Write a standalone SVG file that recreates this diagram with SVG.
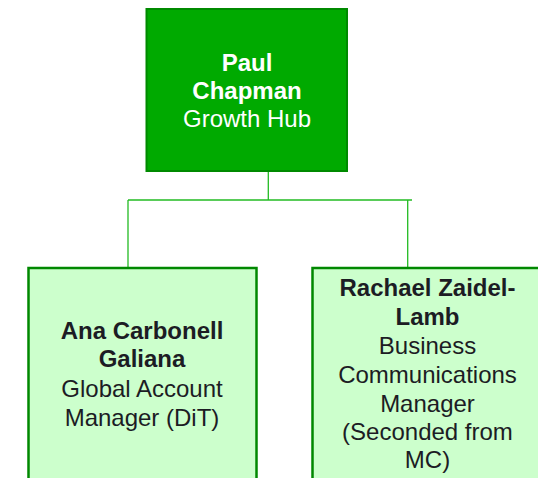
<svg xmlns="http://www.w3.org/2000/svg" width="538" height="478" viewBox="0 0 538 478">
<style>
text{font-family:"Liberation Sans",Arial,sans-serif;font-size:24px;text-anchor:middle}
.b{font-weight:bold}
.top rect{fill:#00aa00;stroke:#008a00;stroke-width:2}
.top text{fill:#ffffff}
.sub rect{fill:#ccffcc;stroke:#008800;stroke-width:2.5}
.sub text{fill:#1c1c24}
.conn{fill:none;stroke:#22bb22;stroke-width:1.3}
</style>
<rect width="538" height="478" fill="#ffffff"/>
<g id="connectors" class="conn">
<path d="M268.3 171V200"/>
<path d="M128 200H412"/>
<path d="M128 200V267"/>
<path d="M407.7 200V267"/>
</g>
<g id="paul" class="top">
<rect x="146.5" y="9" width="200.5" height="162"/>
<text x="247" y="71" class="b">Paul</text>
<text x="247" y="99" class="b">Chapman</text>
<text x="247" y="127">Growth Hub</text>
</g>
<g id="ana" class="sub">
<rect x="28.5" y="268" width="228" height="230"/>
<text x="142" y="339" class="b">Ana Carbonell</text>
<text x="142" y="367" class="b">Galiana</text>
<text x="142" y="396.5">Global Account</text>
<text x="142" y="425.5">Manager (DiT)</text>
</g>
<g id="rachael" class="sub">
<rect x="312.5" y="268" width="260" height="230"/>
<text x="427.5" y="296" class="b">Rachael Zaidel-</text>
<text x="427.5" y="325" class="b">Lamb</text>
<text x="427.5" y="353.5">Business</text>
<text x="427.5" y="382.5">Communications</text>
<text x="427.5" y="411.5">Manager</text>
<text x="427.5" y="440">(Seconded from</text>
<text x="427.5" y="468">MC)</text>
</g>
</svg>
